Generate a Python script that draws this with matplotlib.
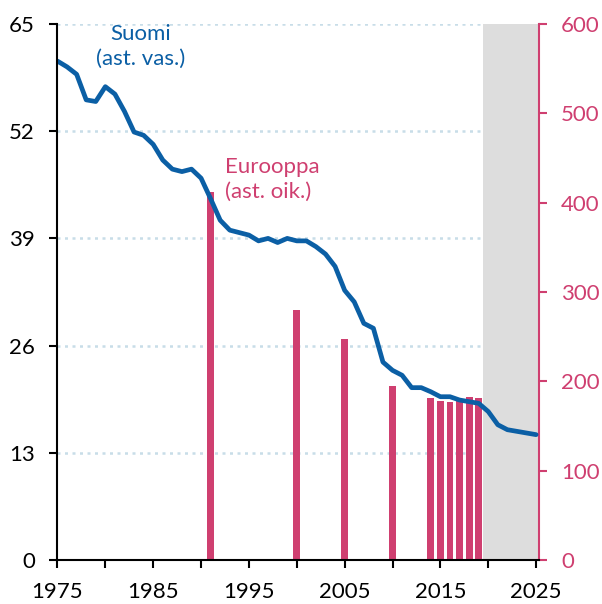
import matplotlib
matplotlib.use("Agg")
import matplotlib.pyplot as plt
import numpy as np

years = list(range(1975, 2026))
suomi = [60.5, 59.8, 58.9, 55.8, 55.6, 57.4, 56.5, 54.4, 51.9, 51.5,
         50.4, 48.5, 47.4, 47.1, 47.4, 46.3, 43.8, 41.2, 40.0, 39.7,
         39.4, 38.7, 39.0, 38.5, 39.0, 38.7, 38.7, 38.0, 37.1, 35.6,
         32.7, 31.3, 28.7, 28.1, 24.0, 23.0, 22.4, 20.9, 20.9, 20.4,
         19.8, 19.8, 19.4, 19.2, 19.0, 18.0, 16.4, 15.8, 15.6, 15.4,
         15.2]

eur_years = [1991, 2000, 2005, 2010, 2014, 2015, 2016, 2017, 2018, 2019]
eur_vals = [412, 280, 247, 195, 181, 178, 177, 179, 182, 181]

left_ticks = [0, 13, 26, 39, 52, 65]
right_ticks = [0, 100, 200, 300, 400, 500, 600]
x_major = [1975, 1985, 1995, 2005, 2015, 2025]
x_minor = [1980, 1990, 2000, 2010, 2020]

blue = "#0b5fa5"
pink = "#cf3f70"
plt.rcParams['font.family'] = ['Lato', 'DejaVu Sans']

fig = plt.figure(figsize=(6.02, 6.04), dpi=100)
ax = fig.add_axes([57/602, 44/604, (539-57)/602, (560-24)/604])
ax2 = ax.twinx()

ax.set_zorder(2)
ax.patch.set_visible(False)
ax2.set_zorder(1)

ax.set_xlim(1974.95, 2025.3)
ax.set_ylim(0, 65)
ax2.set_ylim(0, 600)

# grid lines
for t in left_ticks[1:]:
    ax2.axhline(t / 65 * 600, color="#c8dde8", lw=1.8, ls=(0, (1.2, 1.8)), zorder=0)
ax2.axvspan(2019.4, 2025.3, color="#dddddd", zorder=0.5, lw=0)
ax2.bar(eur_years, eur_vals, width=0.72, color=pink, zorder=2)

ax.plot(years, suomi, color=blue, lw=3.4, solid_capstyle="round", solid_joinstyle="round")

ax.set_yticks(left_ticks)
ax2.set_yticks(right_ticks)
ax.set_xticks(x_major)
ax.set_xticks(x_minor, minor=True)

for a in (ax, ax2):
    a.spines["top"].set_visible(False)
ax.spines["right"].set_visible(False)
ax2.spines["left"].set_visible(False)
ax2.spines["bottom"].set_visible(False)
ax.spines["left"].set_linewidth(1.5)
ax.spines["bottom"].set_linewidth(1.5)
ax2.spines["right"].set_linewidth(1.5)
ax2.spines["right"].set_color(pink)

ax.tick_params(axis="both", which="both", direction="out", length=6, width=1.5,
               labelsize=16, colors="black")
ax.tick_params(axis="x", which="both", pad=10)
ax.tick_params(axis="y", pad=10)
ax2.tick_params(axis="y", direction="out", length=6, width=1.5, labelsize=16,
                colors=pink, pad=10)

ax.text(1983.7, 65.0, "Suomi\n(ast. vas.)", color=blue, fontsize=16,
        ha="center", va="top", linespacing=1.3)
ax.text(1992.5, 48.9, "Eurooppa\n(ast. oik.)", color=pink, fontsize=16,
        ha="left", va="top", linespacing=1.3)

fig.savefig("out.png", dpi=100)
